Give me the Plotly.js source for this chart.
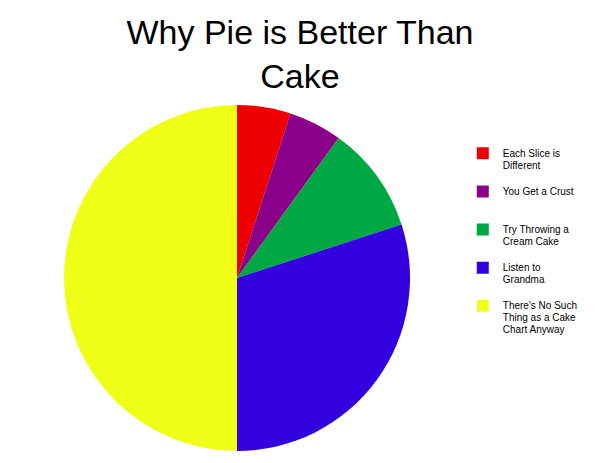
<!DOCTYPE html>
<html>
<head>
<meta charset="utf-8">
<script src="https://cdn.plot.ly/plotly-3.0.1.min.js"></script>
<style>
  html, body { margin: 0; padding: 0; background: #fff; }
  #myDiv { width: 600px; height: 463px; }
</style>
</head>
<body>
<div id="myDiv"></div>
<script>
// slice labels, read clockwise from 12 o'clock
var labels = [
    'Each Slice is<br>Different',
    'You Get a Crust',
    'Try Throwing a<br>Cream Cake',
    'Listen to<br>Grandma',
    "There's No Such<br>Thing as a Cake<br>Chart Anyway"
];
var values = [5, 5, 10, 30, 50];
var colors = ['#ee0000', '#8b0088', '#00a843', '#3300e0', '#f0ff17'];

// pad every legend label to three lines so entries sit evenly spaced,
// and draw the words a touch bigger than the line spacing font
var padded = labels.map(function (t) {
    var lines = t.split('<br>');
    while (lines.length < 3) lines.push('&nbsp;');
    return lines.map(function (l) {
        return '<span style="font-size:10px">' + l + '</span>';
    }).join('<br>');
});

var pie = {
    type: 'pie',
    labels: padded,
    values: values,
    sort: false,
    direction: 'clockwise',
    rotation: 0,
    textinfo: 'none',
    hoverinfo: 'label+percent',
    marker: {colors: colors, line: {width: 0}},
    domain: {x: [0, 346 / 536], y: [0, 1]}
};

var layout = {
    width: 600,
    height: 463,
    margin: {l: 64, r: 0, t: 105, b: 12},
    paper_bgcolor: '#fff',
    font: {family: 'Liberation Sans, Arial, sans-serif', color: '#000'},
    title: {
        text: 'Why Pie is Better Than<br>Cake',
        font: {size: 34, color: '#000'},
        x: 0.5,
        xref: 'container',
        xanchor: 'center',
        y: 0.906,
        yref: 'container',
        yanchor: 'top'
    },
    showlegend: true,
    legend: {
        x: 0.744,
        y: 0.896,
        xanchor: 'left',
        yanchor: 'top',
        valign: 'top',
        font: {size: 9, color: '#000'},
        bgcolor: 'rgba(0,0,0,0)'
    }
};

Plotly.newPlot('myDiv', [pie], layout, {displayModeBar: false});
</script>
</body>
</html>
